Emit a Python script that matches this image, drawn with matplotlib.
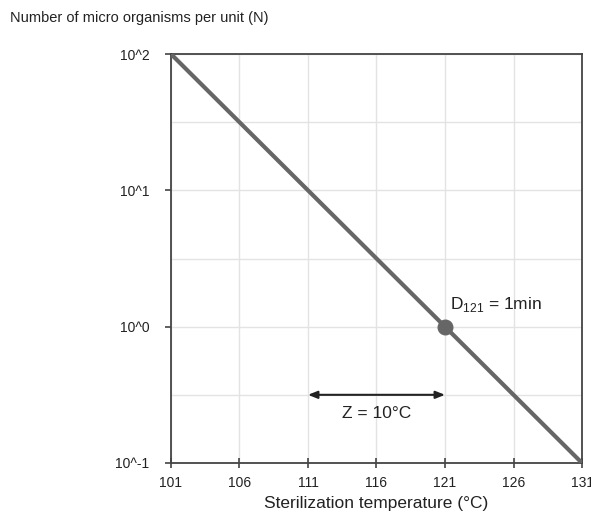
import matplotlib
matplotlib.use("Agg")
import matplotlib.pyplot as plt
import numpy as np

plt.rcParams['font.family'] = ['Liberation Sans', 'DejaVu Sans']
plt.rcParams['mathtext.fontset'] = 'custom'
plt.rcParams['mathtext.rm'] = 'Liberation Sans'

# Data
temps = [101, 131]
counts = [100, 0.1]
d_temp = [121]
d_count = [1]
z_range = [111, 121]
z_level = 10 ** -0.5
x_ticks = [101, 106, 111, 116, 121, 126, 131]
y_ticks = [0.1, 1, 10, 100]
y_labels = ["10^-1", "10^0", "10^1", "10^2"]
y_half = [10 ** -0.5, 10 ** 0.5, 10 ** 1.5]

fig = plt.figure(figsize=(5.91, 5.26), dpi=100)
ax = fig.add_axes([0.2893, 0.1198, 0.6955, 0.7775])

line_color = '#666666'
ax.plot(temps, counts, color=line_color, lw=3, solid_capstyle='butt', zorder=3)
ax.plot(d_temp, d_count, 'o', color=line_color, ms=10.5, zorder=4)

ax.set_yscale('log')
ax.set_xlim(temps[0], temps[1])
ax.set_ylim(min(y_ticks), max(y_ticks))
ax.set_xticks(x_ticks)
ax.set_xticklabels([str(t) for t in x_ticks])
ax.set_yticks(y_ticks)
ax.set_yticklabels(y_labels)
ax.yaxis.set_minor_locator(matplotlib.ticker.FixedLocator(y_half))
ax.yaxis.set_minor_formatter(matplotlib.ticker.NullFormatter())

ax.grid(True, which='major', color='#e3e3e3', lw=1, zorder=0)
ax.grid(True, which='minor', axis='y', color='#e3e3e3', lw=1, zorder=0)
ax.set_axisbelow(True)

for s in ax.spines.values():
    s.set_color('#444444')
    s.set_linewidth(1.3)

ax.tick_params(axis='x', which='major', direction='inout', length=7, width=1.2,
               color='#444444', labelsize=10, labelcolor='#222222', pad=6)
ax.tick_params(axis='y', which='major', direction='out', length=4, width=1.2,
               color='#444444', labelsize=10, labelcolor='#222222', pad=11.5)
ax.tick_params(axis='y', which='minor', length=0)

# Annotations
ax.text(121.4, 1.45, r"D$_\mathregular{121}$ = 1min", fontsize=12.5, color='#222222',
        ha='left', va='center')
ax.annotate('', xy=(z_range[1], z_level), xytext=(z_range[0], z_level),
            arrowprops=dict(arrowstyle='<|-|>,head_length=0.55,head_width=0.22',
                            color='#222222', lw=1.5, shrinkA=0, shrinkB=0))
ax.text((z_range[0] + z_range[1]) / 2, 10 ** -0.64, "Z = 10°C", fontsize=12.5,
        color='#222222', ha='center', va='center')

fig.text(10 / 591, 1 - 18 / 526, "Number of micro organisms per unit (N)",
         fontsize=10.5, color='#222222', ha='left', va='center')
ax.set_xlabel("Sterilization temperature (°C)", fontsize=12.5, color='#222222',
              labelpad=4)

fig.savefig('out.png', dpi=100)
